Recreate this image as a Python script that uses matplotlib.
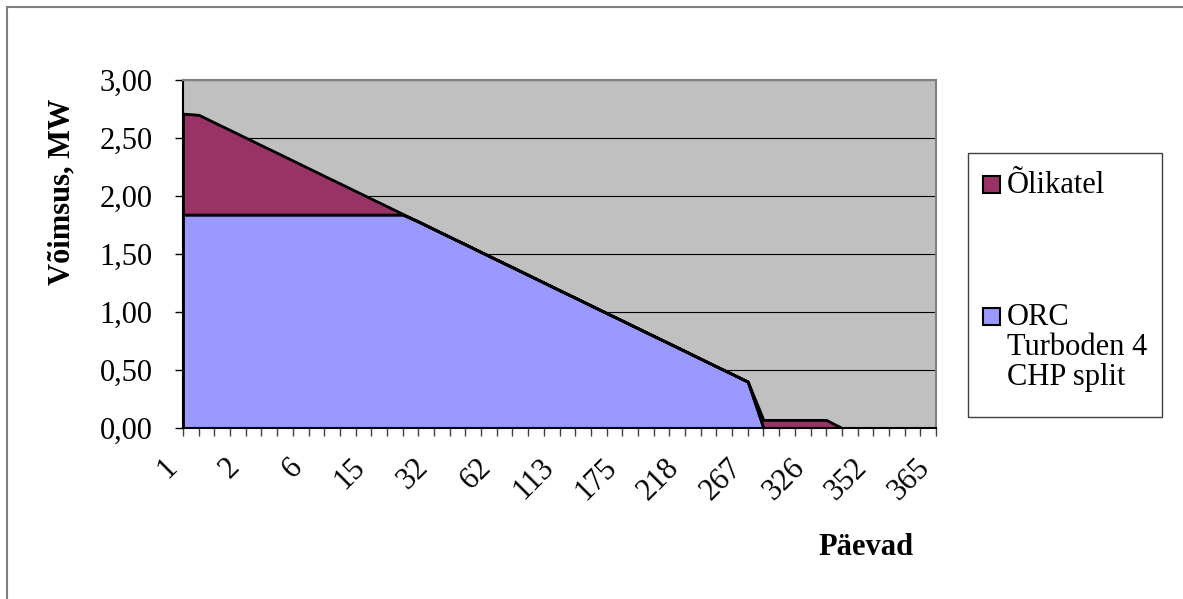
import numpy as np
import matplotlib.pyplot as plt
from matplotlib.patches import Rectangle
from matplotlib.ticker import FuncFormatter, FixedLocator

plt.rcParams['font.family'] = ['Liberation Serif', 'DejaVu Serif']

# day labels shown under every 4th category
day_labels = ["1", "2", "6", "15", "32", "62", "113", "175", "218", "267", "326", "352", "365"]

# ORC Turboden 4 CHP split output, MW
orc = [1.840, 1.840, 1.840, 1.840, 1.840, 1.840, 1.840, 1.840, 1.840, 1.840,
       1.840, 1.840, 1.840, 1.840, 1.840, 1.780, 1.714, 1.648, 1.583, 1.517,
       1.451, 1.386, 1.320, 1.254, 1.188, 1.123, 1.057, 0.991, 0.926, 0.860,
       0.794, 0.729, 0.663, 0.597, 0.531, 0.466, 0.400, 0.000, 0.000, 0.000,
       0.000, 0.000, 0.000, 0.000, 0.000, 0.000, 0.000, 0.000, 0.000]

# oil boiler (Õlikatel) output, MW
oil = [0.870, 0.860, 0.794, 0.729, 0.663, 0.597, 0.532, 0.466, 0.400, 0.334,
       0.269, 0.203, 0.137, 0.072, 0.006, 0.000, 0.000, 0.000, 0.000, 0.000,
       0.000, 0.000, 0.000, 0.000, 0.000, 0.000, 0.000, 0.000, 0.000, 0.000,
       0.000, 0.000, 0.000, 0.000, 0.000, 0.000, 0.000, 0.070, 0.070, 0.070,
       0.070, 0.070, 0.000, 0.000, 0.000, 0.000, 0.000, 0.000, 0.000]

ORC_COLOR = "#9999FF"
OIL_COLOR = "#993366"
PLOT_BG = "#C0C0C0"

W, H = 1183, 599


def fx(px):
    return px / W


def fy(py):
    return 1 - py / H


fig = plt.figure(figsize=(W / 100, H / 100), dpi=100)
fig.patch.set_facecolor("white")

ax = fig.add_axes([fx(183), fy(428), (936 - 183) / W, (428 - 80) / H])
ax.set_facecolor(PLOT_BG)

x = np.arange(len(orc))
ax.stackplot(x, orc, oil, colors=[ORC_COLOR, OIL_COLOR],
             edgecolor="black", linewidth=2.0, zorder=2)

ax.set_xlim(0, len(orc) - 1)
ax.set_ylim(0, 3)

# y axis
ax.set_yticks(np.arange(0, 3.01, 0.5))
ax.yaxis.set_major_formatter(FuncFormatter(lambda v, p: f"{v:.2f}".replace(".", ",")))
ax.yaxis.grid(True, color="black", linewidth=0.8)
ax.set_axisbelow(True)

# x axis: tick at every category, label on every 4th
ax.xaxis.set_major_locator(FixedLocator(x[::4]))
ax.xaxis.set_minor_locator(FixedLocator(x))
ax.set_xticklabels(day_labels, rotation=45, ha="right", va="top")

ax.tick_params(axis="y", direction="out", length=6, width=1, color="black",
               labelsize=22, pad=16)
ax.tick_params(axis="x", which="both", direction="out", length=6, width=1,
               color="#404040", labelsize=22, pad=12)

for side in ("top", "right"):
    ax.spines[side].set_color("#808080")
    ax.spines[side].set_linewidth(1.5)
for side in ("left", "bottom"):
    ax.spines[side].set_color("black")
    ax.spines[side].set_linewidth(1.5)

# axis titles
fig.text(fx(62), fy(192), "Võimsus, MW", rotation=90, ha="center", va="center",
         fontsize=22, fontweight="bold")
fig.text(fx(866), fy(555), "Päevad", ha="center", va="baseline",
         fontsize=22, fontweight="bold")

# legend
fig.add_artist(Rectangle((fx(968), fy(417)), fx(1162) - fx(968), fy(153) - fy(417),
                         transform=fig.transFigure, facecolor="white",
                         edgecolor="#404040", linewidth=1.0))
fig.add_artist(Rectangle((fx(983), fy(193)), fx(1000) - fx(983), fy(176) - fy(193),
                         transform=fig.transFigure, facecolor=OIL_COLOR,
                         edgecolor="black", linewidth=1.5))
fig.add_artist(Rectangle((fx(983), fy(325)), fx(1000) - fx(983), fy(308) - fy(325),
                         transform=fig.transFigure, facecolor=ORC_COLOR,
                         edgecolor="black", linewidth=1.5))
fig.text(fx(1007), fy(193), "Õlikatel", ha="left", va="baseline", fontsize=22)
for i, line in enumerate(["ORC", "Turboden 4", "CHP split"]):
    fig.text(fx(1007), fy(325 + 30 * i), line, ha="left", va="baseline", fontsize=22)

# outer chart frame
fig.add_artist(Rectangle((fx(7), -0.1), 1.2, fy(7) + 0.1, transform=fig.transFigure,
                         fill=False, edgecolor="#808080", linewidth=1.5))

fig.savefig("out.png", dpi=100)
